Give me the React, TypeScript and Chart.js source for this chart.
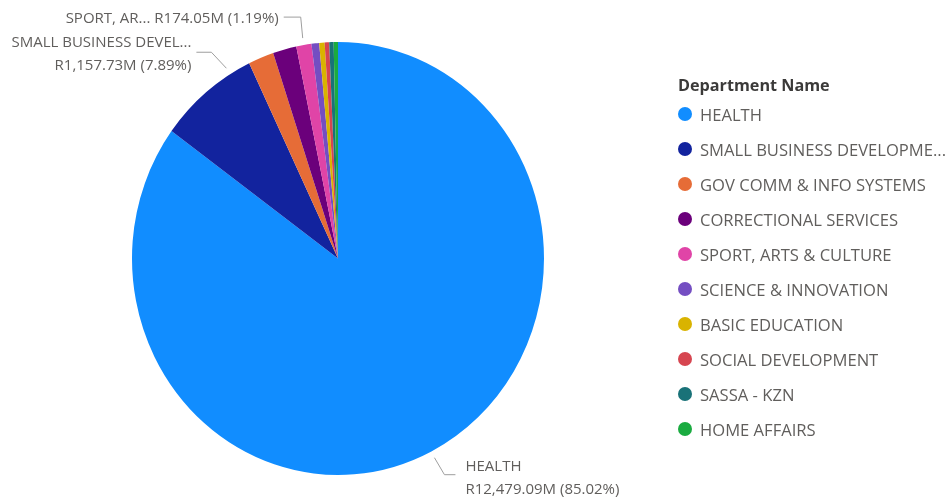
import React, { useEffect, useRef } from "react";
import { Chart, registerables } from "chart.js";

Chart.register(...registerables);

// ---- Data ----
const departments = [
  "HEALTH",
  "SMALL BUSINESS DEVELOPMENT",
  "GOV COMM & INFO SYSTEMS",
  "CORRECTIONAL SERVICES",
  "SPORT, ARTS & CULTURE",
  "SCIENCE & INNOVATION",
  "BASIC EDUCATION",
  "SOCIAL DEVELOPMENT",
  "SASSA - KZN",
  "HOME AFFAIRS",
];
const amountsM = [12479.09, 1157.73, 293.6, 271.5, 174.05, 88.5, 62.0, 52.0, 50.7, 49.3];
const sliceColors = [
  "#118DFF",
  "#12239E",
  "#E66C37",
  "#6B007B",
  "#E044A7",
  "#744EC2",
  "#D9B300",
  "#D64550",
  "#197278",
  "#1AAB40",
];
const legendTitle = "Department Name";
const legendMaxChars = 24;

// ---- Label layout (style only) ----
type Placement = {
  index: number;
  frac: number;
  elbow: [number, number];
  run: number;
  gap: number;
  nameChars: number;
  twoLines: boolean;
  dy1: number;
  dy2: number;
};
const labelPlacements: Placement[] = [
  { index: 0, frac: 0.5, elbow: [10, 17], run: 11, gap: 10, nameChars: 99, twoLines: true, dy1: -8, dy2: 23 },
  { index: 1, frac: 0.785, elbow: [-15, -16], run: 15, gap: 5, nameChars: 20, twoLines: true, dy1: -10, dy2: 23 },
  { index: 4, frac: 0.5, elbow: [-2, -21], run: 17, gap: 5, nameChars: 9, twoLines: false, dy1: 2, dy2: 0 },
];

const X_SCALE = 206 / 216.5;
const FONT = "'Segoe UI', 'Open Sans', sans-serif";
const LABEL_COLOR = "#605E5C";

const total = amountsM.reduce((a, b) => a + b, 0);
const fmtAmount = (v: number) =>
  "R" + v.toLocaleString("en-US", { minimumFractionDigits: 2, maximumFractionDigits: 2 }) + "M";
const fmtPct = (v: number) => ((v / total) * 100).toFixed(2) + "%";
const trunc = (s: string, n: number) => (s.length > n ? s.slice(0, n) + "..." : s);

const ellipsePlugin = {
  id: "ellipse",
  beforeDatasetsDraw(chart: any) {
    const arc = chart.getDatasetMeta(0).data[0];
    const ctx = chart.ctx;
    ctx.save();
    ctx.translate(arc.x, 0);
    ctx.scale(X_SCALE, 1);
    ctx.translate(-arc.x, 0);
  },
  afterDatasetsDraw(chart: any) {
    chart.ctx.restore();
  },
};

const labelPlugin = {
  id: "leaderLabels",
  afterDraw(chart: any) {
    const ctx = chart.ctx;
    const meta = chart.getDatasetMeta(0);
    ctx.save();
    ctx.font = `15px ${FONT}`;
    ctx.textBaseline = "middle";
    for (const p of labelPlacements) {
      const arc = meta.data[p.index];
      const { x, y, startAngle, endAngle, outerRadius } = arc.getProps(
        ["x", "y", "startAngle", "endAngle", "outerRadius"],
        true
      );
      const a = startAngle + p.frac * (endAngle - startAngle);
      const r = outerRadius + 7;
      const ax = x + r * Math.cos(a) * X_SCALE;
      const ay = y + r * Math.sin(a);
      const ex = ax + p.elbow[0];
      const ey = ay + p.elbow[1];
      const right = Math.cos(a) >= 0;
      const hx = ex + (right ? p.run : -p.run);
      ctx.strokeStyle = "#9E9E9E";
      ctx.lineWidth = 1;
      ctx.beginPath();
      ctx.moveTo(ax, ay);
      ctx.lineTo(ex, ey);
      ctx.lineTo(hx, ey);
      ctx.stroke();
      ctx.fillStyle = LABEL_COLOR;
      ctx.textAlign = right ? "left" : "right";
      const tx = hx + (right ? p.gap : -p.gap);
      const name = trunc(departments[p.index], p.nameChars);
      const val = `${fmtAmount(amountsM[p.index])} (${fmtPct(amountsM[p.index])})`;
      if (p.twoLines) {
        ctx.fillText(name, tx, ey + p.dy1);
        ctx.fillText(val, tx, ey + p.dy1 + p.dy2);
      } else {
        ctx.fillText(`${name} ${val}`, tx, ey + p.dy1);
      }
    }
    ctx.restore();
  },
};

export default function App() {
  const canvasRef = useRef<HTMLCanvasElement | null>(null);

  useEffect(() => {
    if (!canvasRef.current) return;
    const chart = new Chart(canvasRef.current, {
      type: "pie",
      data: {
        labels: departments,
        datasets: [
          {
            data: amountsM,
            backgroundColor: sliceColors,
            borderWidth: 0,
          },
        ],
      },
      options: {
        responsive: false,
        animation: false,
        devicePixelRatio: 1,
        layout: { padding: { left: 121.5, right: 394.5, top: 42, bottom: 25 } },
        plugins: {
          legend: { display: false },
          tooltip: { enabled: false },
        },
      },
      plugins: [ellipsePlugin, labelPlugin],
    });
    return () => chart.destroy();
  }, []);

  return (
    <div style={{ position: "absolute", left: 0, top: 0, width: 949, height: 500, background: "#fff", overflow: "hidden" }}>
      <canvas ref={canvasRef} width={949} height={500} style={{ position: "absolute", left: 0, top: 0 }} />
      <div
        style={{
          position: "absolute",
          left: 678,
          top: 73,
          height: 24,
          lineHeight: "24px",
          fontFamily: FONT,
          fontWeight: 700,
          fontSize: 16.2,
          color: "#3B3A39",
          whiteSpace: "nowrap",
        }}
      >
        {legendTitle}
      </div>
      {departments.map((d, i) => (
        <div
          key={d}
          style={{
            position: "absolute",
            left: 678,
            top: 96.5 + 35 * i,
            height: 35,
            display: "flex",
            alignItems: "center",
            fontFamily: FONT,
            fontSize: 16.6,
            color: LABEL_COLOR,
            whiteSpace: "nowrap",
          }}
        >
          <span
            style={{
              display: "inline-block",
              width: 14,
              height: 14,
              borderRadius: "50%",
              background: sliceColors[i],
              marginRight: 8,
            }}
          />
          <span>{trunc(d, legendMaxChars)}</span>
        </div>
      ))}
    </div>
  );
}
